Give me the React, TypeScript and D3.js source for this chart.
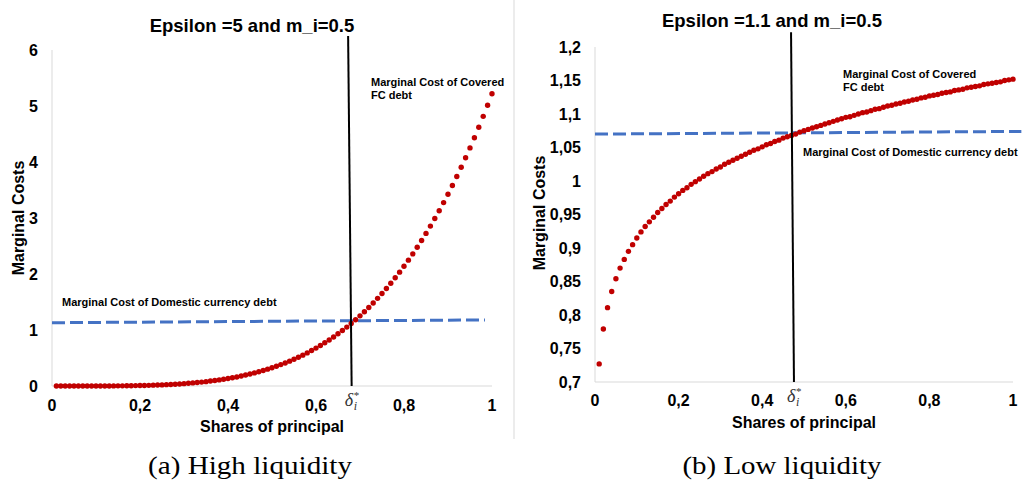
import React from "react";
import * as d3 from "d3";

// ---------- data ----------
const shares = [
  0.01, 0.02, 0.03, 0.04, 0.05, 0.06, 0.07, 0.08, 0.09, 0.1,
  0.11, 0.12, 0.13, 0.14, 0.15, 0.16, 0.17, 0.18, 0.19, 0.2,
  0.21, 0.22, 0.23, 0.24, 0.25, 0.26, 0.27, 0.28, 0.29, 0.3,
  0.31, 0.32, 0.33, 0.34, 0.35, 0.36, 0.37, 0.38, 0.39, 0.4,
  0.41, 0.42, 0.43, 0.44, 0.45, 0.46, 0.47, 0.48, 0.49, 0.5,
  0.51, 0.52, 0.53, 0.54, 0.55, 0.56, 0.57, 0.58, 0.59, 0.6,
  0.61, 0.62, 0.63, 0.64, 0.65, 0.66, 0.67, 0.68, 0.69, 0.7,
  0.71, 0.72, 0.73, 0.74, 0.75, 0.76, 0.77, 0.78, 0.79, 0.8,
  0.81, 0.82, 0.83, 0.84, 0.85, 0.86, 0.87, 0.88, 0.89, 0.9,
  0.91, 0.92, 0.93, 0.94, 0.95, 0.96, 0.97, 0.98, 0.99, 1.0,
];

const fcCostHigh = [
  0.0, 0.0, 0.0, 0.0, 0.0, 0.0, 0.0, 0.0, 0.0, 0.001,
  0.001, 0.001, 0.001, 0.002, 0.003, 0.003, 0.004, 0.005, 0.007, 0.008,
  0.01, 0.012, 0.015, 0.017, 0.02, 0.024, 0.028, 0.032, 0.037, 0.042,
  0.048, 0.055, 0.062, 0.07, 0.078, 0.088, 0.098, 0.109, 0.121, 0.134,
  0.148, 0.162, 0.178, 0.196, 0.214, 0.234, 0.255, 0.277, 0.301, 0.326,
  0.353, 0.382, 0.412, 0.444, 0.478, 0.513, 0.551, 0.591, 0.633, 0.677,
  0.723, 0.771, 0.822, 0.876, 0.932, 0.99, 1.052, 1.116, 1.183, 1.253,
  1.327, 1.403, 1.482, 1.565, 1.652, 1.742, 1.835, 1.932, 2.033, 2.138,
  2.247, 2.36, 2.477, 2.599, 2.725, 2.855, 2.991, 3.13, 3.275, 3.425,
  3.58, 3.74, 3.905, 4.076, 4.252, 4.434, 4.621, 4.815, 5.014, 5.22,
];

const fcCostLow = [
  0.727, 0.779, 0.811, 0.835, 0.854, 0.87, 0.883, 0.895, 0.905, 0.915,
  0.924, 0.932, 0.939, 0.946, 0.953, 0.959, 0.965, 0.97, 0.976, 0.981,
  0.986, 0.99, 0.995, 0.999, 1.003, 1.007, 1.011, 1.014, 1.018, 1.021,
  1.025, 1.028, 1.031, 1.034, 1.037, 1.04, 1.043, 1.046, 1.048, 1.051,
  1.054, 1.056, 1.059, 1.061, 1.064, 1.066, 1.068, 1.07, 1.073, 1.075,
  1.077, 1.079, 1.081, 1.083, 1.085, 1.087, 1.089, 1.091, 1.093, 1.095,
  1.096, 1.098, 1.1, 1.102, 1.103, 1.105, 1.107, 1.108, 1.11, 1.112,
  1.113, 1.115, 1.116, 1.118, 1.119, 1.121, 1.122, 1.124, 1.125, 1.127,
  1.128, 1.129, 1.131, 1.132, 1.133, 1.135, 1.136, 1.137, 1.139, 1.14,
  1.141, 1.142, 1.144, 1.145, 1.146, 1.147, 1.148, 1.15, 1.151, 1.152,
];

const domesticHighX = [0, 0.984];
const domesticHighY = [1.13, 1.18];
const domesticLowX = [0, 1.02];
const domesticLowY = [1.07, 1.074];

const deltaHighX = [0.673, 0.681];
const deltaHighY = [6.25, 0];
const deltaLowX = [0.469, 0.476];
const deltaLowY = [1.222, 0.7];

const xTicks = [0, 0.2, 0.4, 0.6, 0.8, 1];
const xTickLabels = ["0", "0,2", "0,4", "0,6", "0,8", "1"];
const yTicksHigh = [0, 1, 2, 3, 4, 5, 6];
const yTickLabelsHigh = ["0", "1", "2", "3", "4", "5", "6"];
const yTicksLow = [0.7, 0.75, 0.8, 0.85, 0.9, 0.95, 1, 1.05, 1.1, 1.15, 1.2];
const yTickLabelsLow = ["0,7", "0,75", "0,8", "0,85", "0,9", "0,95", "1", "1,05", "1,1", "1,15", "1,2"];

const titleHigh = "Epsilon =5 and m_i=0.5";
const titleLow = "Epsilon =1.1 and m_i=0.5";
const captionHigh = "(a) High liquidity";
const captionLow = "(b) Low liquidity";

const SANS = "'Liberation Sans', Arial, sans-serif";
const SERIF = "'Liberation Serif', 'Times New Roman', serif";

type PanelProps = {
  x0: number; x1: number; yTop: number; yBot: number;
  yDomain: [number, number];
  yTicks: number[]; yLabels: string[];
  fc: number[];
  domX: number[]; domY: number[];
  dX: number[]; dY: number[];
  title: string; titleX: number; titleY: number;
  yTitleX: number; yTitleY: number;
  xTitleY: number;
  tickBase: number;
  fcLabel: [number, number];
  domLabel: [number, number];
  deltaBase: number;
};

function Panel(p: PanelProps) {
  const x = d3.scaleLinear().domain([0, 1]).range([p.x0, p.x1]);
  const y = d3.scaleLinear().domain(p.yDomain).range([p.yBot, p.yTop]);
  const line = d3.line<[number, number]>().x((d) => x(d[0])).y((d) => y(d[1]));
  const dom: [number, number][] = p.domX.map((v, i) => [v, p.domY[i]]);
  const del: [number, number][] = p.dX.map((v, i) => [v, p.dY[i]]);
  const dxBottom = x(p.dX[1]);
  return (
    <g>
      {/* axes */}
      <line x1={p.x0} x2={p.x0} y1={p.yTop} y2={p.yBot} stroke="#d9d9d9" strokeWidth={1} />
      <line x1={p.x0} x2={p.x1} y1={p.yBot} y2={p.yBot} stroke="#d9d9d9" strokeWidth={1} />
      {p.yTicks.map((t, i) => (
        <text key={"y" + i} x={p.x0 - 14} y={y(t)} dy="0.35em" textAnchor="end"
          fontFamily={SANS} fontWeight="bold" fontSize={16} fill="#000">{p.yLabels[i]}</text>
      ))}
      {xTicks.map((t, i) => (
        <text key={"x" + i} x={x(t)} y={p.tickBase} textAnchor="middle"
          fontFamily={SANS} fontWeight="bold" fontSize={16} fill="#000">{xTickLabels[i]}</text>
      ))}
      {/* titles */}
      <text x={p.titleX} y={p.titleY} textAnchor="middle" fontFamily={SANS} fontWeight="bold" fontSize={18.5}>{p.title}</text>
      <text x={(p.x0 + p.x1) / 2} y={p.xTitleY} textAnchor="middle" fontFamily={SANS} fontWeight="bold" fontSize={16}>Shares of principal</text>
      <text transform={`translate(${p.yTitleX},${p.yTitleY}) rotate(-90)`} textAnchor="middle" dy="0.35em"
        fontFamily={SANS} fontWeight="bold" fontSize={16}>Marginal Costs</text>
      {/* domestic line */}
      <path d={line(dom) || ""} fill="none" stroke="#4472C4" strokeWidth={3} strokeDasharray="13 5" />
      {/* FC debt dots */}
      {shares.map((s, i) => (
        <circle key={"d" + i} cx={x(s)} cy={y(p.fc[i])} r={2.7} fill="#C00000" />
      ))}
      {/* delta line */}
      <path d={line(del) || ""} fill="none" stroke="#000" strokeWidth={2} />
      {/* delta label */}
      <text x={dxBottom - 7} y={p.deltaBase} fontFamily={SERIF} fontStyle="italic" fontSize={18} fill="#333">δ</text>
      <text x={dxBottom + 2} y={p.deltaBase - 7} fontFamily={SERIF} fontSize={11} fill="#333">*</text>
      <text x={dxBottom + 2} y={p.deltaBase + 4} fontFamily={SERIF} fontStyle="italic" fontSize={12} fill="#333">i</text>
      {/* annotations */}
      <text x={p.fcLabel[0]} y={p.fcLabel[1]} fontFamily={SANS} fontWeight="bold" fontSize={11}>
        <tspan x={p.fcLabel[0]}>Marginal Cost of Covered</tspan>
        <tspan x={p.fcLabel[0]} dy={13}>FC debt</tspan>
      </text>
      <text x={p.domLabel[0]} y={p.domLabel[1]} fontFamily={SANS} fontWeight="bold" fontSize={11}>Marginal Cost of Domestic currency debt</text>
    </g>
  );
}

export default function App() {
  return (
    <svg width={1024} height={485} style={{ position: "absolute", left: 0, top: 0, background: "#fff" }}>
      <rect x={0} y={0} width={1024} height={485} fill="#fff" />
      <line x1={514} x2={514} y1={0} y2={439} stroke="#d9d9d9" strokeWidth={1} />
      <Panel
        x0={52} x1={492} yTop={50} yBot={386}
        yDomain={[0, 6]} yTicks={yTicksHigh} yLabels={yTickLabelsHigh}
        fc={fcCostHigh}
        domX={domesticHighX} domY={domesticHighY}
        dX={deltaHighX} dY={deltaHighY}
        title={titleHigh} titleX={252} titleY={32}
        yTitleX={18} yTitleY={218}
        xTitleY={432} tickBase={411}
        fcLabel={[371, 86]} domLabel={[62, 306]}
        deltaBase={406}
      />
      <Panel
        x0={595} x1={1013} yTop={47} yBot={382}
        yDomain={[0.7, 1.2]} yTicks={yTicksLow} yLabels={yTickLabelsLow}
        fc={fcCostLow}
        domX={domesticLowX} domY={domesticLowY}
        dX={deltaLowX} dY={deltaLowY}
        title={titleLow} titleX={772} titleY={27}
        yTitleX={539} yTitleY={213}
        xTitleY={428} tickBase={406}
        fcLabel={[843, 78]} domLabel={[803, 156]}
        deltaBase={402}
      />
      <text x={250} y={474} textAnchor="middle" fontFamily={SERIF} fontSize={26} textLength={204} lengthAdjust="spacingAndGlyphs">{captionHigh}</text>
      <text x={782} y={474} textAnchor="middle" fontFamily={SERIF} fontSize={26} textLength={199} lengthAdjust="spacingAndGlyphs">{captionLow}</text>
    </svg>
  );
}
